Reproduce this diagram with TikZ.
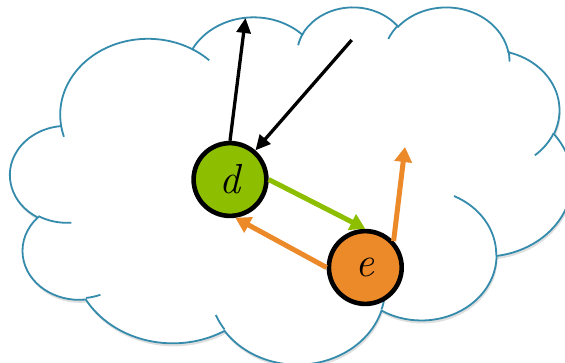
\documentclass[tikz,border=0pt]{standalone}
\usetikzlibrary{positioning,shadows,arrows.meta}
\definecolor{azulnube}{RGB}{52,139,172}
\definecolor{verde}{RGB}{141,191,0}
\definecolor{naranja}{RGB}{236,137,41}
\tikzset{
	nube/.style={draw=azulnube, line width=1.8pt, fill=white,
		drop shadow={shadow xshift=1pt, shadow yshift=-3pt, opacity=0.25}},
	borde/.style={draw=azulnube, line width=1.8pt},
	agente/.style={circle, draw=black, line width=4.6pt, minimum size=72.8pt,
		inner sep=0pt, font=\fontsize{42}{42}\selectfont\itshape},
	flechanegra/.style={draw=black, line width=3.3pt, -{Triangle[length=15pt,width=14pt]}},
	flechaverde/.style={draw=verde, line width=5pt, -{Triangle[length=15pt,width=17pt]}},
	flechanaranja/.style={draw=naranja, line width=5pt, -{Triangle[length=15pt,width=17pt]}}
}

\begin{document}
\begin{tikzpicture}[x=1pt, y=-1pt]
	\useasboundingbox (0,0) rectangle (565,362);
	
	% nube
	\begin{scope}[shift={(10.3,6.2)}, xscale=1.3, yscale=0.8269]
		\draw[nube] (39.00,143.70)
			\foreach \rx/\ry/\inicio/\barrido [evaluate={\inicio as \ta using atan2(\rx*sin(\inicio),\ry*cos(\inicio))},
				evaluate={\inicio as \tb using atan2(\rx*sin(\inicio+\barrido),\ry*cos(\inicio+\barrido))},
				evaluate={\inicio as \td using mod(\tb-\ta+720,360)}] in {
				67.53/91.90/-190.4875/123.7805, 53.33/72.67/-144.1024/89.9452,
				43.65/59.45/-145.8079/99.7230, 48.57/65.95/-130.9861/117.2417,
				53.33/72.73/-78.7089/109.0269, 67.75/92.20/-46.2673/130.2690,
				57.85/78.67/0.6250/114.0333, 67.52/92.15/22.4516/115.1726,
				77.20/105.43/66.2426/75.7110, 43.60/59.18/-274.9421/146.7356,
				43.45/59.45/-246.8285/152.5189}
			{ arc[start angle=\ta, delta angle=\td, x radius=\rx, y radius=\ry] } -- cycle;
		\foreach \px/\py/\rx/\ry/\inicio/\barrido [evaluate={\inicio as \ta using atan2(\rx*sin(\inicio),\ry*cos(\inicio))},
			evaluate={\inicio as \tb using atan2(\rx*sin(\inicio+\barrido),\ry*cos(\inicio+\barrido))},
			evaluate={\inicio as \td using mod(\tb-\ta+720,360)}] in {
			46.93/261.77/43.45/59.45/86.7420/26.4295, 69.28/348.99/43.60/59.18/73.6105/11.4475,
			164.78/390.90/67.52/92.15/137.6242/14.0811, 288.27/347.51/67.52/92.15/6.4533/15.9984,
			341.29/229.54/57.85/78.67/-70.2924/70.9174, 417.98/153.54/53.33/72.73/30.3180/27.7515,
			383.24/54.26/48.57/65.95/-13.7443/14.8589, 290.78/39.52/48.57/65.95/-149.1815/18.1954,
			221.41/47.20/43.65/59.45/-163.4943/17.6864, 140.00/51.92/67.53/91.90/-66.7070/12.3194,
			41.27/157.89/67.53/91.90/157.6544/11.8582}
			\draw[borde] (\px,\py) arc[start angle=\ta, delta angle=\td, x radius=\rx, y radius=\ry];
	\end{scope}
	
	\node[agente, fill=verde] (d) at (230,179.5) {d};
	\node[agente, fill=naranja, on grid, below right=88pt and 135.3pt of d] (e) {e};
	
	\coordinate (arriba) at (245.5,18);
	\coordinate (origen) at (351.7,40);
	\coordinate (derecha) at (405,147);
	
	\draw[flechanegra] (d.north) -- (arriba);
	\draw[flechanegra] (origen) -- (d);
	\draw[flechaverde] (d.east) -- (e.north);
	\draw[flechanaranja] (e.west) -- (d.-82);
	\draw[flechanaranja] (e.43) -- (derecha);
\end{tikzpicture}
\end{document}
